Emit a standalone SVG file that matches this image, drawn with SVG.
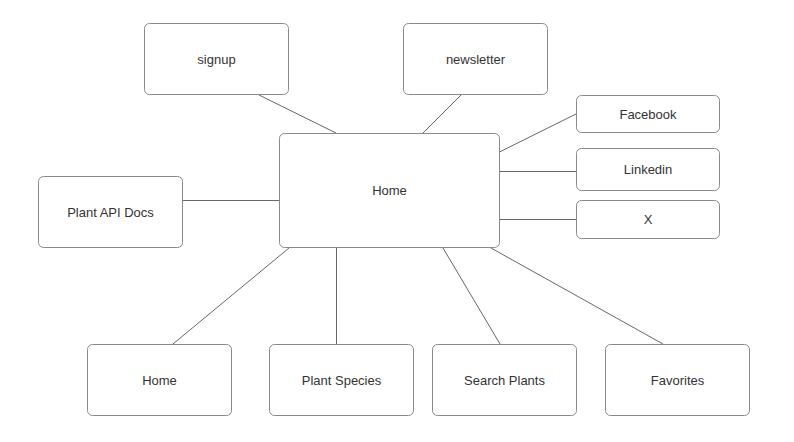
<svg xmlns="http://www.w3.org/2000/svg" width="794" height="442" viewBox="0 0 794 442">
<style>
.box{fill:#fff;stroke:#8a8a8a;stroke-width:1}
.lbl{font-family:"Liberation Sans",Arial,sans-serif;font-size:13px;fill:#333;text-anchor:middle;dominant-baseline:central}
.edge{stroke:#666;stroke-width:1;fill:none}
</style>
<rect width="794" height="442" fill="#fff"/>
<g id="connectors">
<line class="edge" x1="259" y1="95" x2="336" y2="133"/>
<line class="edge" x1="461" y1="95" x2="423" y2="133"/>
<line class="edge" x1="499.5" y1="152" x2="576" y2="114"/>
<line class="edge" x1="499.5" y1="171.5" x2="576" y2="171.5"/>
<line class="edge" x1="499.5" y1="219.5" x2="576" y2="219.5"/>
<line class="edge" x1="183" y1="200.5" x2="279" y2="200.5"/>
<line class="edge" x1="289" y1="248" x2="173" y2="344"/>
<line class="edge" x1="336.5" y1="248" x2="336.5" y2="344"/>
<line class="edge" x1="443" y1="248" x2="500" y2="344"/>
<line class="edge" x1="491" y1="248" x2="663" y2="344"/>
</g>
<g id="home-center"><rect class="box" x="279.5" y="133.5" width="220" height="114" rx="5"/><text class="lbl" x="389.5" y="190">Home</text></g>
<g id="signup"><rect class="box" x="144.5" y="23.5" width="144" height="71" rx="5"/><text class="lbl" x="216.5" y="59">signup</text></g>
<g id="newsletter"><rect class="box" x="403.5" y="23.5" width="144" height="71" rx="5"/><text class="lbl" x="475.5" y="59">newsletter</text></g>
<g id="facebook"><rect class="box" x="576.5" y="95.5" width="143" height="37" rx="5"/><text class="lbl" x="648" y="114">Facebook</text></g>
<g id="linkedin"><rect class="box" x="576.5" y="148.5" width="143" height="42" rx="5"/><text class="lbl" x="648" y="169.5">Linkedin</text></g>
<g id="x"><rect class="box" x="576.5" y="200.5" width="143" height="38" rx="5"/><text class="lbl" x="648" y="219.5">X</text></g>
<g id="plant-api-docs"><rect class="box" x="38.5" y="176.5" width="144" height="71" rx="5"/><text class="lbl" x="110.5" y="212">Plant API Docs</text></g>
<g id="home"><rect class="box" x="87.5" y="344.5" width="144" height="71" rx="5"/><text class="lbl" x="159.5" y="380">Home</text></g>
<g id="plant-species"><rect class="box" x="269.5" y="344.5" width="144" height="71" rx="5"/><text class="lbl" x="341.5" y="380">Plant Species</text></g>
<g id="search-plants"><rect class="box" x="432.5" y="344.5" width="144" height="71" rx="5"/><text class="lbl" x="504.5" y="380">Search Plants</text></g>
<g id="favorites"><rect class="box" x="605.5" y="344.5" width="144" height="71" rx="5"/><text class="lbl" x="677.5" y="380">Favorites</text></g>
</svg>
